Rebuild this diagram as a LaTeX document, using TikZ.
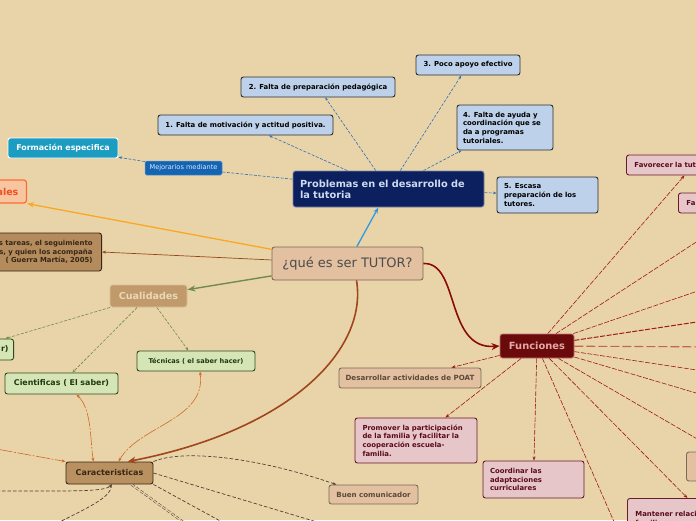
\documentclass[tikz,border=0pt]{standalone}
\usepackage{fontspec}
\setmainfont{DejaVu Sans}
\usepackage{xcolor}
\usepackage{tikz}
\usetikzlibrary{arrows.meta, positioning}

\definecolor{fondo}{RGB}{233,212,169}
\definecolor{tutorfill}{RGB}{227,192,160}
\definecolor{tutorline}{RGB}{120,105,90}
\definecolor{navy}{RGB}{12,31,94}
\definecolor{navytext}{RGB}{205,218,240}
\definecolor{skyfill}{RGB}{189,209,234}
\definecolor{skyline}{RGB}{45,45,45}
\definecolor{skyarrow}{RGB}{45,155,225}
\definecolor{bluedashc}{RGB}{50,110,180}
\definecolor{mejorfill}{RGB}{20,100,180}
\definecolor{formfill}{RGB}{27,156,192}
\definecolor{orangefill}{RGB}{247,197,160}
\definecolor{orangeline}{RGB}{255,107,53}
\definecolor{orangetext}{RGB}{240,80,30}
\definecolor{orangearrow}{RGB}{249,168,35}
\definecolor{brownfill}{RGB}{180,139,92}
\definecolor{browntext}{RGB}{55,38,22}
\definecolor{brownarrow}{RGB}{150,70,30}
\definecolor{cualfill}{RGB}{193,154,107}
\definecolor{cualtext}{RGB}{233,216,181}
\definecolor{greenarrow}{RGB}{110,140,74}
\definecolor{greenfill}{RGB}{213,229,181}
\definecolor{greenline}{RGB}{46,74,30}
\definecolor{greentext}{RGB}{31,58,18}
\definecolor{caracfill}{RGB}{185,145,96}
\definecolor{thickbrown}{RGB}{160,70,30}
\definecolor{thinorange}{RGB}{208,105,42}
\definecolor{darkdash}{RGB}{77,64,53}
\definecolor{funcfill}{RGB}{106,10,10}
\definecolor{funcline}{RGB}{192,112,112}
\definecolor{functext}{RGB}{228,168,168}
\definecolor{funcarrow}{RGB}{139,10,10}
\definecolor{reddash}{RGB}{160,24,24}
\definecolor{reddashlight}{RGB}{192,104,72}
\definecolor{pinkfill}{RGB}{230,198,200}
\definecolor{pinkline}{RGB}{106,26,42}
\definecolor{pinktext}{RGB}{90,10,26}
\definecolor{peachfill}{RGB}{227,192,160}
\definecolor{peachline}{RGB}{122,106,90}
\definecolor{peachtext}{RGB}{90,74,58}

\begin{document}
\begin{tikzpicture}[x=1pt, y=-1pt,
    every node/.style={font=\bfseries\fontsize{6.9}{8.7}\selectfont},
    bx/.style={rectangle, rounded corners=2.5pt, line width=0.9pt, inner sep=0pt, align=center},
    pbx/.style={bx, draw=skyline, fill=skyfill, text=black},
    gbx/.style={bx, draw=greenline, fill=greenfill, text=greentext},
    kbx/.style={bx, draw=pinkline, fill=pinkfill, text=pinktext},
    hbx/.style={bx, draw=peachline, fill=peachfill, text=peachtext},
    pe/.style={draw=bluedashc, dash pattern=on 3pt off 1.5pt, line width=0.6pt, -{Stealth[length=3.5pt]}},
    ge/.style={draw=greenarrow, dash pattern=on 3pt off 1.5pt, line width=0.6pt, -{Stealth[length=3.5pt]}},
    oe/.style={draw=thinorange, dash pattern=on 14pt off 1.5pt on 2pt off 1.5pt, line width=0.6pt, {Stealth[length=4pt]}-{Stealth[length=4pt]}},
    ce/.style={draw=darkdash, dash pattern=on 3.5pt off 2pt, line width=0.7pt},
    fe/.style={draw=reddash, dash pattern=on 5pt off 1.5pt, line width=0.6pt, -{Stealth[length=4pt]}}]
    \useasboundingbox (0,0) rectangle (696,520);
    \clip (0,0) rectangle (696,520);
    \fill[fondo] (0,0) rectangle (696,520);

    % nodos principales
    \node[bx, draw=tutorline, fill=tutorfill, text=black!70, font=\fontsize{13}{15}\selectfont, minimum width=151pt, minimum height=33pt] (tutor) at (347.5,263.5) {¿qué es ser TUTOR?};
    \node[bx, draw=navy!55!white, fill=navy, text=navytext, font=\bfseries\fontsize{9.8}{11}\selectfont, text width=177pt, inner xsep=7pt, align=left, minimum height=36pt] (prob) at (388.5,189) {Problemas en el desarrollo de\\la tutoria};
    \node[bx, draw=funcline, fill=funcfill, text=functext, font=\bfseries\fontsize{9.9}{11}\selectfont, minimum width=74pt, minimum height=24pt] (func) at (537,346) {Funciones};
    \node[bx, draw=browntext, fill=caracfill, text=browntext, font=\bfseries\fontsize{8}{9}\selectfont, minimum width=87pt, minimum height=22pt] (carac) at (109.5,473) {Caracteristicas};
    \node[bx, draw=cualtext!60!cualfill, fill=cualfill, text=cualtext, font=\bfseries\fontsize{9.6}{11}\selectfont, minimum width=77pt, minimum height=22pt] (cual) at (148.5,296) {Cualidades};

    % problemas
    \node[pbx, minimum width=175pt, minimum height=20pt] (p1) at (245.5,125) {1. Falta de motivación y actitud positiva.};
    \node[pbx, minimum width=154pt, minimum height=20pt] (p2) at (318,87) {2. Falta de preparación pedagógica};
    \node[pbx, minimum width=104pt, minimum height=20pt] (p3) at (468,65) {3. Poco apoyo efectivo};
    \node[pbx, text width=84pt, inner xsep=6pt, align=left, minimum height=45pt] (p4) at (505,127.5) {4. Falta de ayuda y\\coordinación que se\\da a programas\\tutoriales.};
    \node[pbx, text width=87pt, inner xsep=7pt, align=left, minimum height=36pt] (p5) at (547.5,195) {5. Escasa\\preparación de los\\tutores.};
    \node[bx, rounded corners=1.5pt, line width=0.5pt, draw=mejorfill!70!white, fill=mejorfill, text=white!85!mejorfill, font=\fontsize{6.6}{8}\selectfont, minimum width=77pt, minimum height=14pt] (mejor) at (183.5,168) {Mejorarios mediante};
    \node[bx, draw=white, fill=formfill, text=white, font=\bfseries\fontsize{7.9}{9}\selectfont, minimum width=110pt, minimum height=20pt] (formac) at (63,148) {Formación especifica};

    % izquierda
    \node[bx, line width=1.2pt, draw=orangeline, fill=orangefill, text=orangetext, font=\bfseries\fontsize{9.5}{11}\selectfont, text width=60pt, align=right, inner xsep=8pt, minimum height=23pt, anchor=east] (ales) at (27,191.5) {ales};
    \node[bx, draw=browntext, fill=brownfill, text=browntext, text width=150pt, align=right, inner xsep=9pt, minimum height=38pt, anchor=east] (guerra) at (102,252) {s tareas, el seguimiento\\s, y quien los acompaña\\( Guerra Martía, 2005)};
    \node[gbx, font=\bfseries\fontsize{7.9}{9}\selectfont, text width=80pt, align=right, inner xsep=5pt, minimum height=21pt, anchor=east] (sabser) at (14,349.5) {r)};
    \node[gbx, font=\bfseries\fontsize{7.9}{9}\selectfont, minimum width=113pt, minimum height=21pt] (cient) at (61.5,383.5) {Cientificas ( El saber)};
    \node[gbx, font=\bfseries\fontsize{6.6}{8}\selectfont, minimum width=118pt, minimum height=20pt] (tecn) at (196,361) {Técnicas ( el saber hacer)};
    \node[hbx, font=\bfseries\fontsize{7.1}{8.5}\selectfont, minimum width=89pt, minimum height=19pt] (buen) at (373.5,494.5) {Buen comunicador};

    % funciones
    \node[hbx, font=\bfseries\fontsize{7.1}{8.5}\selectfont, minimum width=142pt, minimum height=20pt] (poat) at (410,378) {Desarrollar actividades de POAT};
    \node[kbx, text width=107pt, inner xsep=7.5pt, align=left, minimum height=45pt] (promo) at (416,440.5) {Promover la participación\\de la familia y facilitar la\\cooperación escuela-\\familia.};
    \node[kbx, text width=87pt, inner xsep=7pt, align=left, minimum height=37pt] (coord) at (533.5,479.5) {Coordinar las\\adaptaciones\\curriculares};
    \node[kbx, text width=100pt, inner xsep=8pt, align=left, minimum height=20pt, anchor=west] (favor) at (626,165) {Favorecer la tut};
    \node[kbx, text width=40pt, inner xsep=8pt, align=left, minimum height=20pt, anchor=west] (fa) at (678,203) {Fa};
    \node[hbx, minimum width=60pt, minimum height=29pt, anchor=west] (sbox) at (686,466.5) {};
    \node[kbx, text width=104pt, inner xsep=8pt, align=left, minimum height=40pt, anchor=north west] (mant) at (627,498) {Mantener relaci\\familia<-{}-{}-> es};

    \coordinate (r1) at (730,220);
    \coordinate (r2) at (730,280);
    \coordinate (r3) at (730,317);
    \coordinate (r4) at (730,347);
    \coordinate (r5) at (730,375);
    \coordinate (r6) at (730,403);
    \coordinate (r7) at (730,458);
    \coordinate (r8) at (622,540);
    \coordinate (k1) at (377,540);
    \coordinate (k2) at (255,540);
    \coordinate (k3) at (208,540);
    \coordinate (k4) at (-20,491);
    \coordinate (k5) at (25,540);
    \coordinate (lw) at (-20,446);

    % conectores
    \draw[draw=skyarrow, line width=1.3pt, -{Stealth[length=6pt]}] (tutor) -- (prob);
    \foreach \t in {p1,p2,p3,p4,p5} {
        \draw[pe] (prob) -- (\t);
    }
    \draw[pe, -] (prob) -- (mejor);
    \draw[pe] (mejor) -- (formac);

    \draw[draw=orangearrow, line width=1.3pt, -{Stealth[length=7pt]}] (tutor) -- (ales.south east);
    \draw[draw=brownarrow, line width=0.7pt, -{Stealth[length=4pt]}] (tutor) -- (guerra.east);
    \draw[draw=greenarrow, line width=1.4pt, -{Stealth[length=8pt]}] (tutor) -- (cual);
    \foreach \t in {sabser,cient,tecn} {
        \draw[ge] (cual) -- (\t);
    }

    \draw[draw=thickbrown, line width=1.6pt, -{Stealth[length=8pt, width=7pt]}] ([xshift=9pt]tutor.south) .. controls (368,350) and (290,430) .. (carac.32);
    \draw[draw=funcarrow, line width=1.6pt, -{Stealth[length=8pt, width=7pt]}] (tutor.east) .. controls (460,262) and (445,350) .. (func.west);

    \draw[oe] ([xshift=4pt]tecn.south) .. controls (206,420) and (140,425) .. (carac.52);
    \draw[oe] ([xshift=15pt]cient.south) .. controls (92,410) and (90,440) .. ([xshift=-16pt]carac.north);
    \draw[oe, -{Stealth[length=4pt]}] (lw) -- (carac.north west);

    \draw[ce, -{Stealth[length=3.5pt]}] (carac.north east) .. controls (180,450) and (250,455) .. (buen.165);
    \draw[ce] (carac.east) -- (k1);
    \draw[ce] (carac.south east) -- (k2);
    \draw[ce, double=fondo, double distance=1.2pt, line width=0.5pt] ([xshift=22pt]carac.south) -- (k3);
    \draw[ce, -{Stealth[length=3.5pt]}] (k4) .. controls (70,491) and (105,492) .. ([xshift=2pt]carac.south);
    \draw[ce] ([xshift=2pt]carac.south) .. controls (112,500) and (80,510) .. (k5);

    \foreach \t in {poat,promo,coord,favor.south,mant.north,r1,r2,r5,r6,r7,r8} {
        \draw[fe] (func) -- (\t);
    }
    \draw[fe, line width=1pt] (func) -- (r3);
    \draw[fe, draw=reddashlight, dash pattern=on 9pt off 3pt, line width=1.1pt] (func) -- (r4);
\end{tikzpicture}
\end{document}
